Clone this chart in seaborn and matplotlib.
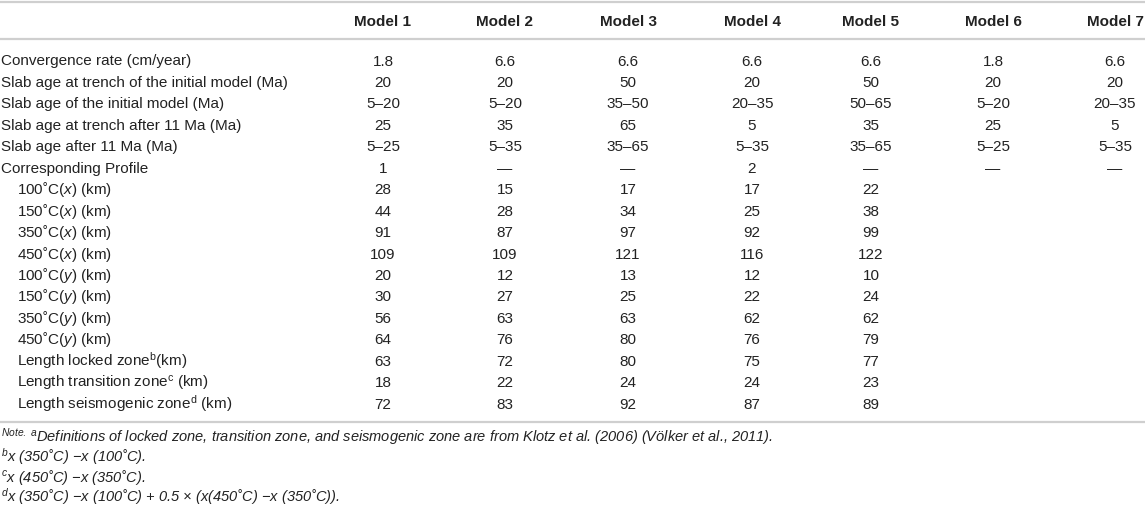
import matplotlib
matplotlib.use("Agg")
import matplotlib.pyplot as plt
import seaborn as sns

# table contents
row_labels = [
    "Convergence rate (cm/year)",
    "Slab age at trench of the initial model (Ma)",
    "Slab age of the initial model (Ma)",
    "Slab age at trench after 11 Ma (Ma)",
    "Slab age after 11 Ma (Ma)",
    "Corresponding Profile",
    r"100˚C($\mathit{x}$) (km)",
    r"150˚C($\mathit{x}$) (km)",
    r"350˚C($\mathit{x}$) (km)",
    r"450˚C($\mathit{x}$) (km)",
    r"100˚C($\mathit{y}$) (km)",
    r"150˚C($\mathit{y}$) (km)",
    r"350˚C($\mathit{y}$) (km)",
    r"450˚C($\mathit{y}$) (km)",
    r"Length locked zone$^\mathrm{b}$(km)",
    r"Length transition zone$^\mathrm{c}$ (km)",
    r"Length seismogenic zone$^\mathrm{d}$ (km)",
]
indented = [False] * 6 + [True] * 11

models = ["Model 1", "Model 2", "Model 3", "Model 4", "Model 5", "Model 6", "Model 7"]

model1 = ["1.8", "20", "5–20", "25", "5–25", "1", "28", "44", "91", "109", "20", "30", "56", "64", "63", "18", "72"]
model2 = ["6.6", "20", "5–20", "35", "5–35", "—", "15", "28", "87", "109", "12", "27", "63", "76", "72", "22", "83"]
model3 = ["6.6", "50", "35–50", "65", "35–65", "—", "17", "34", "97", "121", "13", "25", "63", "80", "80", "24", "92"]
model4 = ["6.6", "20", "20–35", "5", "5–35", "2", "17", "25", "92", "116", "12", "22", "62", "76", "75", "24", "87"]
model5 = ["6.6", "50", "50–65", "35", "35–65", "—", "22", "38", "99", "122", "10", "24", "62", "79", "77", "23", "89"]
model6 = ["1.8", "20", "5–20", "25", "5–25", "—"] + [""] * 11
model7 = ["6.6", "20", "20–35", "5", "5–35", "—"] + [""] * 11
columns = [model1, model2, model3, model4, model5, model6, model7]

notes = [
    r"$^{\mathit{Note.}\ \mathit{a}}$Definitions of locked zone, transition zone, and seismogenic zone are from Klotz et al. (2006) (Völker et al., 2011).",
    r"$^\mathit{b}$x (350˚C) −x (100˚C).",
    r"$^\mathit{c}$x (450˚C) −x (350˚C).",
    r"$^\mathit{d}$x (350˚C) −x (100˚C) + 0.5 × (x(450˚C) −x (350˚C)).",
]

sns.set_theme(style="white")
plt.rcParams["font.family"] = ["Liberation Sans", "DejaVu Sans"]
plt.rcParams["mathtext.fontset"] = "custom"
plt.rcParams["mathtext.rm"] = "Liberation Sans"
plt.rcParams["mathtext.it"] = "Liberation Sans:italic"
plt.rcParams["mathtext.bf"] = "Liberation Sans:bold"

W, H = 1145, 508
fig = plt.figure(figsize=(W / 100, H / 100), dpi=100)
ax = fig.add_axes([0, 0, 1, 1])
ax.set_xlim(0, W)
ax.set_ylim(H, 0)
ax.axis("off")

txt = "#222222"
line_col = "#cfcfcf"
fs = 11
base = 5.5  # baseline offset below row centre

col_x = [383, 505, 628, 752, 871, 993, 1115]
row_y0, row_dy = 60, 21.45

# rules
for y in (1.5, 39, 422):
    ax.plot([0, W], [y, y], color=line_col, lw=1.6, solid_capstyle="butt")

for x, name in zip(col_x, models):
    ax.text(x, 20 + base, name, ha="center", va="baseline", fontsize=fs,
            fontweight="bold", color=txt)

for i, lab in enumerate(row_labels):
    y = row_y0 + i * row_dy + base
    ax.text(17 if indented[i] else 1, y, lab, ha="left", va="baseline", fontsize=fs, color=txt)
    for x, col in zip(col_x, columns):
        if col[i]:
            ax.text(x, y, col[i], ha="center", va="baseline", fontsize=fs, color=txt)

note_y = [437, 457, 477, 497]
for y, n in zip(note_y, notes):
    ax.text(1, y + 5, n, ha="left", va="baseline", fontsize=10.5, style="italic", color=txt)

fig.savefig("out.png", dpi=100)
